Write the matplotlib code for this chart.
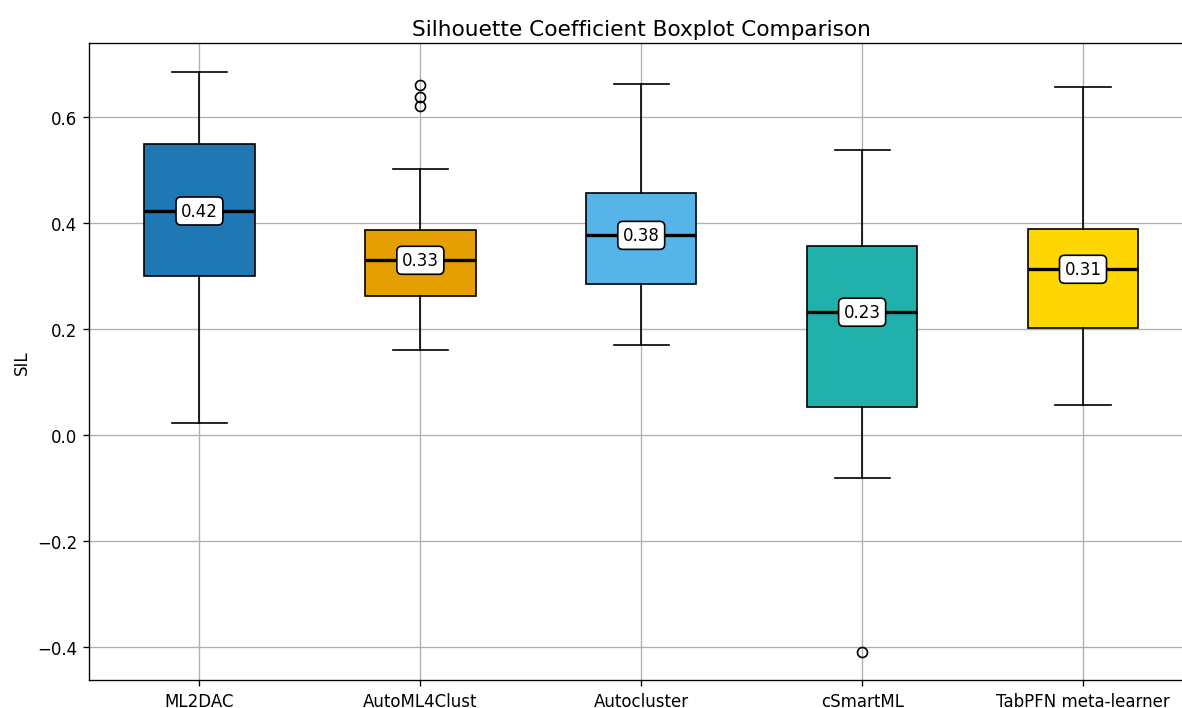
import matplotlib.pyplot as plt

methods = ["ML2DAC", "AutoML4Clust", "Autocluster", "cSmartML", "TabPFN meta-learner"]
colors = ["#1f77b4", "#E69F00", "#56B4E9", "#20B2AA", "#FFD700"]

whislo = [0.023, 0.160, 0.170, -0.081, 0.057]
q1 = [0.300, 0.262, 0.285, 0.053, 0.202]
med = [0.423, 0.330, 0.377, 0.232, 0.313]
q3 = [0.549, 0.387, 0.457, 0.357, 0.389]
whishi = [0.685, 0.502, 0.662, 0.538, 0.657]
fliers = [[], [0.660, 0.638, 0.621], [], [-0.409], []]

stats = []
for i in range(len(methods)):
    stats.append({"label": methods[i], "whislo": whislo[i], "q1": q1[i], "med": med[i],
                  "q3": q3[i], "whishi": whishi[i], "fliers": fliers[i]})

# 120 dpi so fonts/lines come out a bit larger, like the original
fig, ax = plt.subplots(figsize=(9.85, 5.908), dpi=120)
# axes runs slightly past the right edge (original was cropped)
fig.subplots_adjust(left=0.0753, right=1.0097, top=0.938, bottom=0.0395)

bp = ax.bxp(stats, patch_artist=True, widths=0.5,
            medianprops=dict(color="black", linewidth=2),
            flierprops=dict(marker="o", markerfacecolor="none", markeredgecolor="black"))
for patch, c in zip(bp["boxes"], colors):
    patch.set_facecolor(c)
    patch.set_edgecolor("black")

for i, m in enumerate(med):
    ax.text(i + 1, m, f"{m:.2f}", ha="center", va="center", fontsize=10,
            bbox=dict(boxstyle="round,pad=0.3", facecolor="white", edgecolor="black"))

ax.set_xlim(0.5, 5.5)
ax.set_ylim(-0.462, 0.74)
ax.set_title("Silhouette Coefficient Boxplot Comparison", fontsize=13, pad=5)
ax.set_ylabel("SIL")
ax.grid(True)
ax.set_axisbelow(True)

fig.savefig("out.png")
